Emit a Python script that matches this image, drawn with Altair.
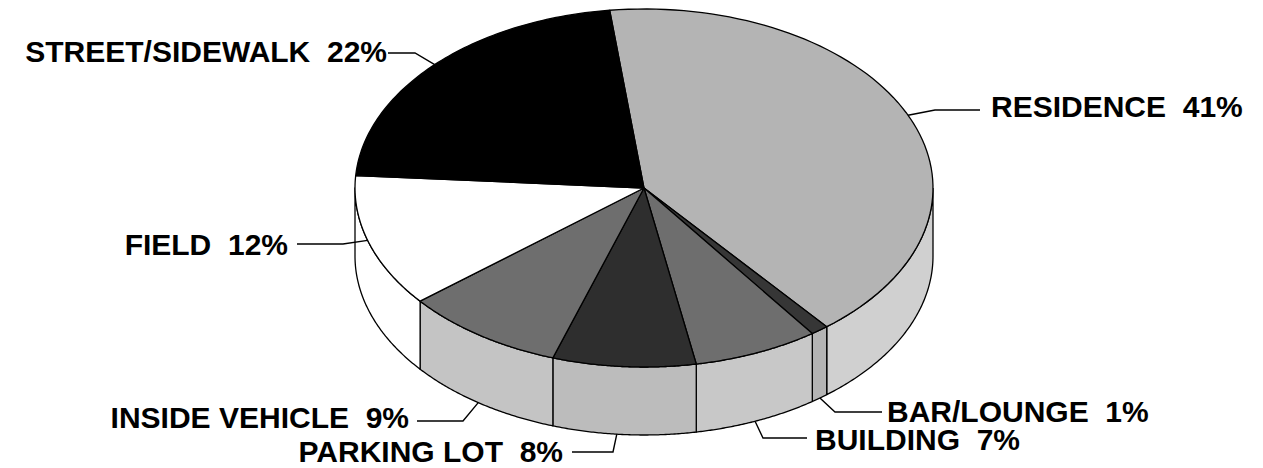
import altair as alt
import pandas as pd
import math

# ---------------- data ----------------
categories = ["RESIDENCE", "BAR/LOUNGE", "BUILDING", "PARKING LOT",
              "INSIDE VEHICLE", "FIELD", "STREET/SIDEWALK"]
percents = [41, 1, 7, 8, 9, 12, 22]

# ---------------- styles ----------------
top_colors = ["#b4b4b4", "#363636", "#6e6e6e", "#2e2e2e", "#6e6e6e", "#ffffff", "#000000"]
side_colors = ["#d0d0d0", "#b4b4b4", "#c8c8c8", "#bcbcbc", "#c4c4c4", "#ffffff", "#ffffff"]

# ---------------- layout (image pixels) ----------------
CX, CY = 644.0, 188.0      # centre of the top ellipse
RX, RY = 289.0, 179.0      # ellipse radii
DEPTH = 68.0               # thickness of the pie
START = -0.119             # start angle (radians, clockwise from top)
N = 80                     # points per arc
FONT = "Liberation Sans"
FSIZE = 30

# leader / label layout: anchor angle (deg) on the pie, on bottom rim?, elbow, end, text pos, align
label_layout = {
    "RESIDENCE":       dict(t=66.0,  bottom=False, elbow=(935, 110), end=(980, 110), text=(991, 117), align="left"),
    "STREET/SIDEWALK": dict(t=313.6, bottom=False, elbow=(415, 53),  end=(388, 53),  text=(387, 62),  align="right"),
    "FIELD":           dict(t=253.0, bottom=False, elbow=(343, 244), end=(297, 244), text=(288, 255), align="right"),
    "INSIDE VEHICLE":  dict(t=215.0, bottom=True,  elbow=(463, 421), end=(417, 421), text=(409, 428), align="right"),
    "PARKING LOT":     dict(t=185.4, bottom=True,  elbow=(613, 452), end=(572, 452), text=(563, 462), align="right"),
    "BAR/LOUNGE":      dict(t=142.5, bottom=True,  elbow=(835, 412), end=(882, 412), text=(887, 422), align="left"),
    "BUILDING":        dict(t=157.4, bottom=True,  elbow=(763, 438), end=(807, 438), text=(815, 450), align="left"),
}

df = pd.DataFrame({
    "cat": categories,
    "value": percents,
    "ord": list(range(len(categories))),
    "top": top_colors,
    "side": side_colors,
})

xs = alt.Scale(domain=[8, 1255], nice=False, zero=False)
ys = alt.Scale(domain=[8, 468], nice=False, zero=False, reverse=True)
X = alt.X("px:Q", scale=xs, axis=None)
Y = alt.Y("py:Q", scale=ys, axis=None)

base = alt.Chart(df).transform_window(
    cum="sum(value)", sort=[alt.SortField("ord", order="ascending")], frame=[None, 0]
).transform_joinaggregate(
    total="sum(value)"
).transform_calculate(
    a0=f"{START} + 2*PI*(datum.cum - datum.value)/datum.total",
    a1=f"{START} + 2*PI*datum.cum/datum.total",
)

# side walls (front half only)
side = base.transform_calculate(
    va="max(datum.a0, PI/2)",
    vb="min(datum.a1, 3*PI/2)",
).transform_filter(
    "datum.va < datum.vb"
).transform_calculate(
    idx=f"sequence(0, {2 * N + 3})"
).transform_flatten(
    ["idx"]
).transform_calculate(
    k=f"datum.idx <= {N} ? datum.idx : (datum.idx <= {2 * N + 1} ? {2 * N + 1} - datum.idx : 0)",
    bot=f"(datum.idx > {N} && datum.idx <= {2 * N + 1}) ? 1 : 0",
).transform_calculate(
    t=f"datum.va + (datum.vb - datum.va) * datum.k / {N}",
).transform_calculate(
    px=f"{CX} + {RX} * sin(datum.t)",
    py=f"{CY} - {RY} * cos(datum.t) + {DEPTH} * datum.bot",
).mark_line(stroke="black", strokeWidth=1.3, strokeJoin="round").encode(
    x=X, y=Y,
    fill=alt.Fill("side:N", scale=None),
    detail="cat:N",
    order="idx:Q",
)

# top wedges
top = base.transform_calculate(
    idx=f"sequence(0, {N + 3})"
).transform_flatten(
    ["idx"]
).transform_calculate(
    apex=f"(datum.idx == 0 || datum.idx == {N + 2}) ? 1 : 0",
    t=f"datum.a0 + (datum.a1 - datum.a0) * (datum.idx - 1) / {N}",
).transform_calculate(
    px=f"datum.apex == 1 ? {CX} : {CX} + {RX} * sin(datum.t)",
    py=f"datum.apex == 1 ? {CY} : {CY} - {RY} * cos(datum.t)",
).mark_line(stroke="black", strokeWidth=1.3, strokeJoin="round").encode(
    x=X, y=Y,
    fill=alt.Fill("top:N", scale=None),
    detail="cat:N",
    order="idx:Q",
)

# leader lines
rows = []
for c in categories:
    L = label_layout[c]
    t = math.radians(L["t"])
    ax = CX + RX * math.sin(t)
    ay = CY - RY * math.cos(t) + (DEPTH if L["bottom"] else 0)
    pts = [(ax, ay), L["elbow"], L["end"]]
    for i, (px, py) in enumerate(pts):
        rows.append({"cat": c, "i": i, "px": px, "py": py})
lead_df = pd.DataFrame(rows)
leaders = alt.Chart(lead_df).mark_line(stroke="black", strokeWidth=1.4).encode(
    x=X, y=Y, detail="cat:N", order="i:Q"
)

# labels
lab_rows = []
for c, v in zip(categories, percents):
    L = label_layout[c]
    lab_rows.append({"label": f"{c}\u00a0\u00a0{v}%", "px": L["text"][0], "py": L["text"][1],
                     "align": L["align"]})
lab_df = pd.DataFrame(lab_rows)
text_left = alt.Chart(lab_df).transform_filter("datum.align == 'left'").mark_text(
    align="left", baseline="alphabetic", font=FONT, fontSize=FSIZE, fontWeight="bold", color="black"
).encode(x=X, y=Y, text="label:N")
text_right = alt.Chart(lab_df).transform_filter("datum.align == 'right'").mark_text(
    align="right", baseline="alphabetic", font=FONT, fontSize=FSIZE, fontWeight="bold", color="black"
).encode(x=X, y=Y, text="label:N")

chart = alt.layer(side, top, leaders, text_left, text_right).properties(
    width=1247, height=460, padding=0, autosize=alt.AutoSizeParams(type="none"),
    background="white",
).configure_view(stroke=None)

chart.save("out.html", embed_options={"renderer": "svg", "actions": False})
